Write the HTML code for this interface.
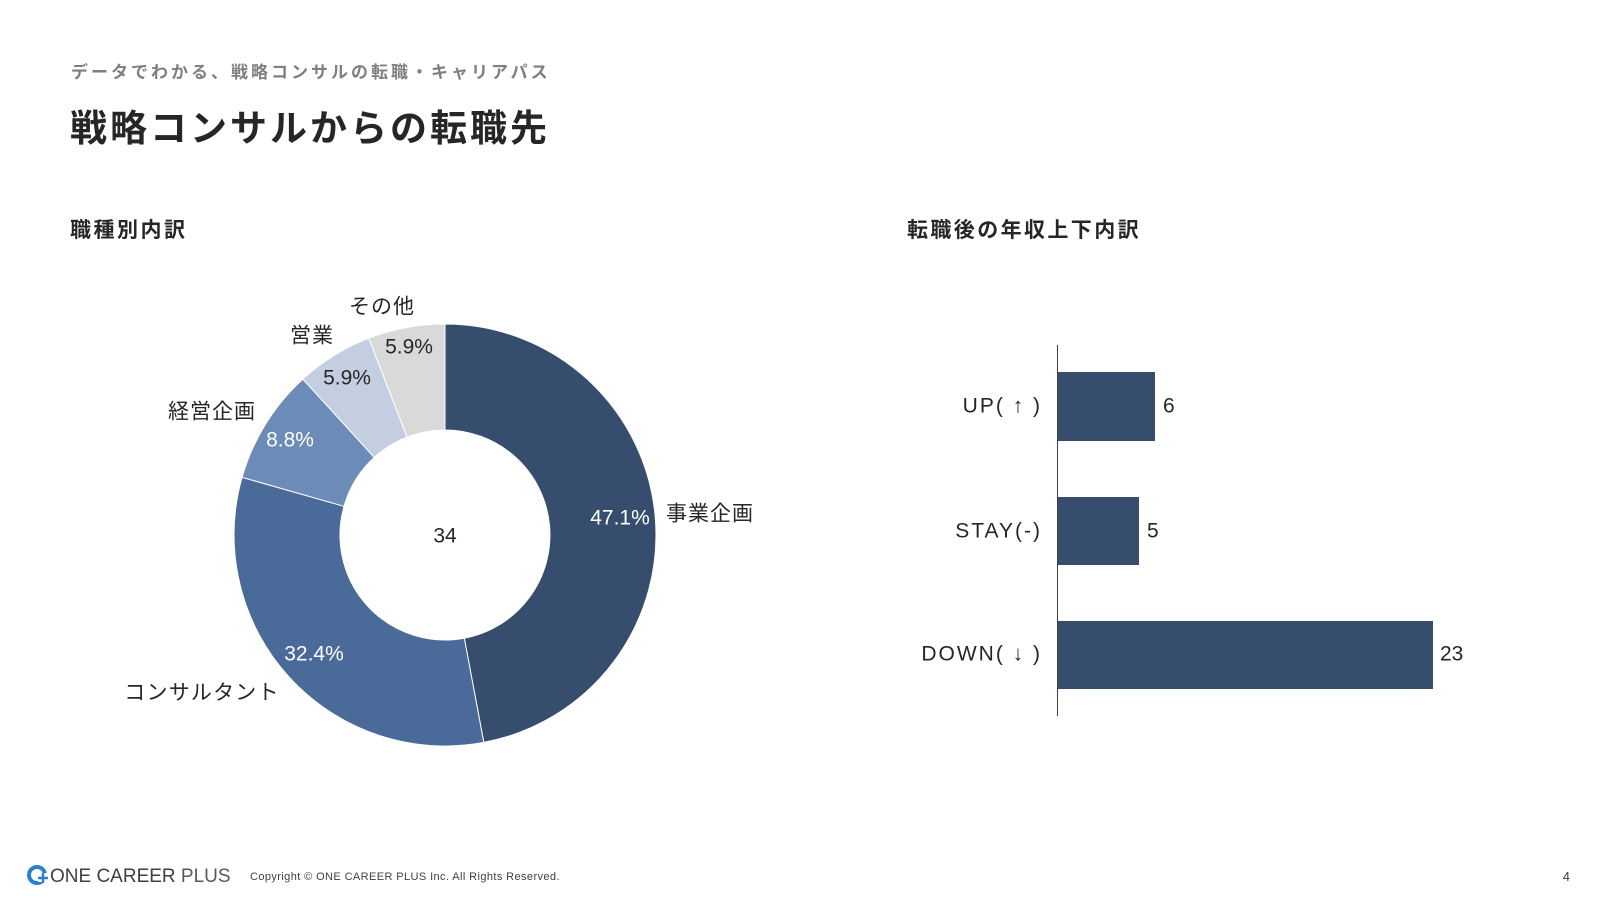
<!DOCTYPE html>
<html><head><meta charset="utf-8"><style>
html,body{margin:0;padding:0;background:#fff;}
body{width:1600px;height:900px;overflow:hidden;font-family:"Liberation Sans","Noto Sans CJK JP",sans-serif;}
text{font-family:"Liberation Sans","Noto Sans CJK JP",sans-serif;}
</style></head><body>
<svg width="1600" height="900" viewBox="0 0 1600 900" xmlns="http://www.w3.org/2000/svg">
<text x="71" y="78" font-size="17" font-weight="bold" fill="#7f7f7f" letter-spacing="3">データでわかる、戦略コンサルの転職・キャリアパス</text>
<text x="70" y="141" font-size="37" font-weight="bold" fill="#262626" letter-spacing="3">戦略コンサルからの転職先</text>
<text x="70" y="237" font-size="21" font-weight="bold" fill="#262626" letter-spacing="2.5">職種別内訳</text>
<text x="907" y="237" font-size="21" font-weight="bold" fill="#262626" letter-spacing="2.4">転職後の年収上下内訳</text>

<g stroke="#fff" stroke-width="1">
<path d="M445,324 A211,211 0 0 1 483.8,742.4 L464.3,638.2 A105,105 0 0 0 445,430 Z" fill="#374D6E"/>
<path d="M483.8,742.4 A211,211 0 0 1 242.1,477.3 L344.0,506.3 A105,105 0 0 0 464.3,638.2 Z" fill="#4A6A99"/>
<path d="M242.1,477.3 A211,211 0 0 1 302.9,379.1 L374.3,457.4 A105,105 0 0 0 344.0,506.3 Z" fill="#6D8BB8"/>
<path d="M302.9,379.1 A211,211 0 0 1 368.8,338.2 L407.1,437.1 A105,105 0 0 0 374.3,457.4 Z" fill="#C3CEE1"/>
<path d="M368.8,338.2 A211,211 0 0 1 445,324 L445,430 A105,105 0 0 0 407.1,437.1 Z" fill="#D9D9D9"/>
</g>
<g font-size="21" text-anchor="middle" dominant-baseline="central">
<text x="445" y="536" fill="#262626">34</text>
<text x="620" y="518" fill="#fff">47.1%</text>
<text x="710" y="514" fill="#262626" letter-spacing="1">事業企画</text>
<text x="314" y="654" fill="#fff">32.4%</text>
<text x="202" y="693" fill="#262626" letter-spacing="1.2">コンサルタント</text>
<text x="290" y="440" fill="#fff">8.8%</text>
<text x="212" y="412" fill="#262626" letter-spacing="1">経営企画</text>
<text x="347" y="378" fill="#262626">5.9%</text>
<text x="312" y="336" fill="#262626" letter-spacing="1">営業</text>
<text x="409" y="347" fill="#262626">5.9%</text>
<text x="382" y="307" fill="#262626" letter-spacing="1">その他</text>
</g>

<rect x="1057" y="372" width="98" height="69" fill="#374D6E"/>
<rect x="1057" y="497" width="82" height="68" fill="#374D6E"/>
<rect x="1057" y="621" width="376" height="68" fill="#374D6E"/>
<line x1="1057.5" y1="345" x2="1057.5" y2="716" stroke="#404040" stroke-width="1"/>
<g font-size="21" dominant-baseline="central" fill="#262626">
<text x="1042" y="406" text-anchor="end" letter-spacing="2">UP( ↑ )</text>
<text x="1042" y="531" text-anchor="end" letter-spacing="2">STAY(-)</text>
<text x="1042" y="654" text-anchor="end" letter-spacing="2">DOWN( ↓ )</text>
<text x="1163" y="406">6</text>
<text x="1147" y="531">5</text>
<text x="1440" y="654">23</text>
</g>

<g>
<circle cx="37" cy="875" r="8" fill="none" stroke="#2f7fd0" stroke-width="4"/>
<rect x="38" y="873" width="9" height="9" fill="#fff"/>
<path d="M43,873 v10 M38,878 h10" stroke="#2f7fd0" stroke-width="2.5"/>
<text x="50" y="882" font-size="19" fill="#404040">ONE CAREER <tspan fill="#595959">PLUS</tspan></text>
<text x="250" y="880" font-size="11" fill="#404040" letter-spacing="0.4">Copyright © ONE CAREER PLUS Inc. All Rights Reserved.</text>
<text x="1570" y="881" font-size="13" fill="#404040" text-anchor="end">4</text>
</g>
</svg>
</body></html>
